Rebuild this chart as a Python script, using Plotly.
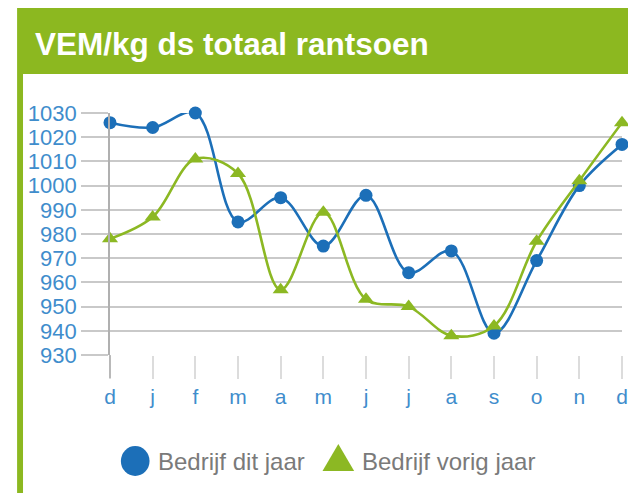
import plotly.graph_objects as go

months = ["d", "j", "f", "m", "a", "m", "j", "j", "a", "s", "o", "n", "d"]
dit_jaar = [1026, 1024, 1030, 985, 995, 975, 996, 964, 973, 939, 969, 1000, 1017]
vorig_jaar = [978, 987, 1011, 1005, 957, 989, 953, 950, 938, 942, 977, 1002, 1026]
series_names = ["Bedrijf dit jaar", "Bedrijf vorig jaar"]
title_text = "VEM/kg ds totaal rantsoen"

# the page body has an 8px margin, so the figure is drawn 8px in from the window edge
OFF = 8
W, H = 636 - OFF, 493 - OFF
L, R, T, B = 110 - OFF, 8, 113 - OFF, 138
PW, PH = W - L - R, H - T - B

def px(x):
    return (x - OFF - L) / PW

def py(y):
    return (H - B - (y - OFF)) / PH

BLUE = "#1c6fb8"
GREEN = "#8cb823"
HEADER = "#8cb820"
TICKBLUE = "#3f8dcc"

xs = list(range(len(months)))

fig = go.Figure()
fig.add_trace(go.Scatter(
    x=xs, y=dit_jaar, name=series_names[0], mode="lines+markers",
    line=dict(color=BLUE, width=2.6, shape="spline", smoothing=1.0),
    marker=dict(symbol="circle", size=13, color=BLUE),
    cliponaxis=False, showlegend=False))
fig.add_trace(go.Scatter(
    x=xs, y=vorig_jaar, name=series_names[1], mode="lines+markers",
    line=dict(color=GREEN, width=2.6, shape="spline", smoothing=1.0),
    marker=dict(symbol="triangle-up", size=14, color=GREEN),
    cliponaxis=False, showlegend=False))

shapes = [
    dict(type="rect", xref="paper", yref="paper", x0=px(16), x1=px(650), y0=py(8), y1=py(74),
         fillcolor=HEADER, line=dict(width=0), layer="below"),
    dict(type="rect", xref="paper", yref="paper", x0=px(16), x1=px(22), y0=py(74), y1=py(510),
         fillcolor=HEADER, line=dict(width=0), layer="below"),
    # darker first x tick continuing the y axis line
    dict(type="line", xref="paper", yref="paper", x0=0, x1=0, y0=0, y1=py(378),
         line=dict(color="#b0b0b0", width=1.6)),
    # legend symbols
    dict(type="circle", xref="paper", yref="paper", x0=px(121), x1=px(150), y0=py(446), y1=py(476),
         fillcolor=BLUE, line=dict(width=0)),
    dict(type="path", xref="paper", yref="paper",
         path="M {} {} L {} {} L {} {} Z".format(px(341), py(444), px(325), py(471), px(357), py(471)),
         fillcolor=GREEN, line=dict(width=0)),
]

annotations = [
    dict(text=title_text, xref="paper", yref="paper", x=px(32), y=py(44), xanchor="left", yanchor="middle",
         showarrow=False, font=dict(family="Liberation Sans, Arial", size=31.5, color="white", weight="bold")),
    dict(text=series_names[0], xref="paper", yref="paper", x=px(157), y=py(461), xanchor="left", yanchor="middle",
         showarrow=False, font=dict(family="Liberation Sans, Arial", size=24, color="#7a7a7a")),
    dict(text=series_names[1], xref="paper", yref="paper", x=px(363), y=py(461), xanchor="left", yanchor="middle",
         showarrow=False, font=dict(family="Liberation Sans, Arial", size=24, color="#7a7a7a")),
]

fig.update_layout(
    width=W, height=H,
    margin=dict(l=L, r=R, t=T, b=B, pad=0),
    paper_bgcolor="white", plot_bgcolor="white",
    showlegend=False,
    shapes=shapes, annotations=annotations,
    font=dict(family="Liberation Sans, Arial"),
    xaxis=dict(range=[0, 12], tickvals=xs, ticktext=months, showgrid=False, zeroline=False,
               ticks="outside", ticklen=23, tickwidth=1.5, tickcolor="#dcdcdc",
               tickfont=dict(size=21, color=TICKBLUE), showline=False),
    yaxis=dict(range=[930, 1030], dtick=10, tick0=930, showgrid=True, gridcolor="#c9c9c9", gridwidth=1.6,
               zeroline=False, ticks="outside", ticklen=27, tickwidth=1.6, tickcolor="#c9c9c9",
               tickfont=dict(size=22, color=TICKBLUE), showline=True, linecolor="#b0b0b0", linewidth=1.6),
)

fig.write_html("out.html")
